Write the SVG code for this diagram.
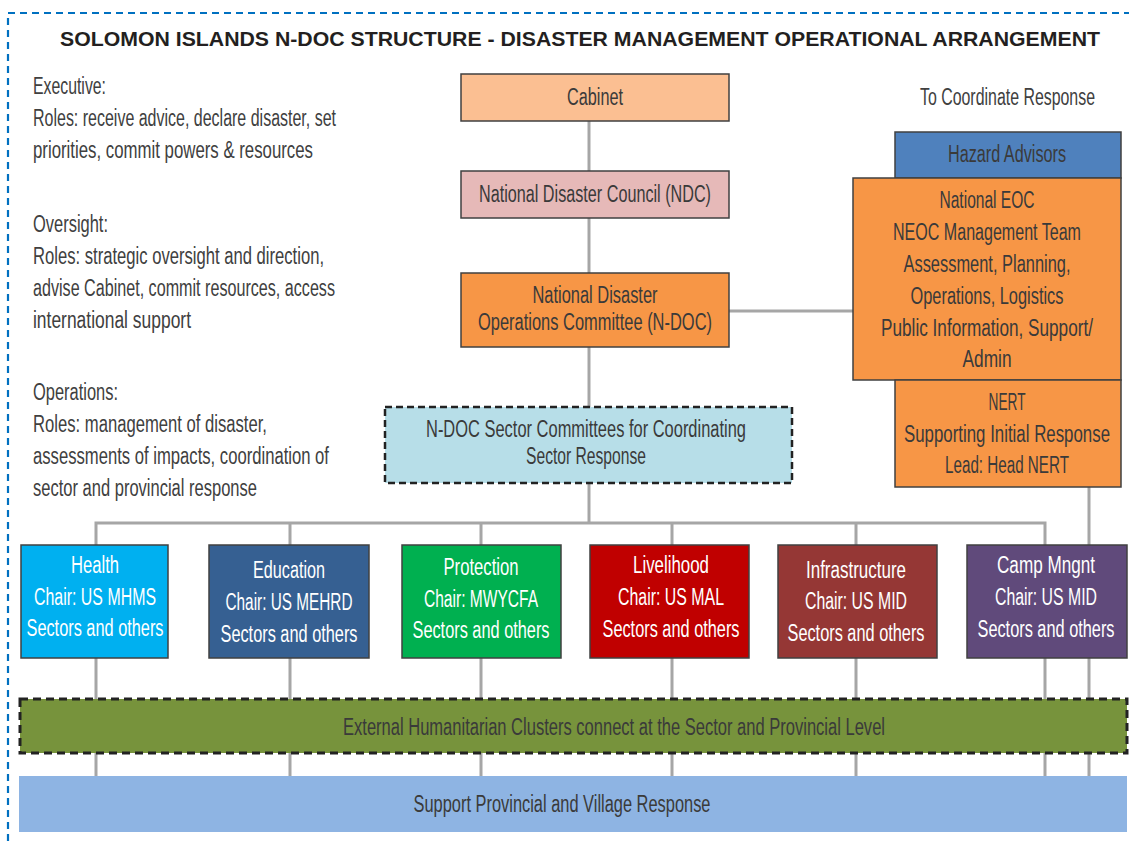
<svg xmlns="http://www.w3.org/2000/svg" width="1129" height="841" viewBox="0 0 1129 841">
<style>
  text { font-family: "Liberation Sans Narrow", "Liberation Sans", Arial, sans-serif; font-size: 23px; }
  .title { font-weight: bold; font-size: 20px; fill: #231F20; }
  .side { fill: #404040; }
  .dk { fill: #3A3A3A; text-anchor: middle; }
  .wt { fill: #FFFFFF; text-anchor: middle; }
  .box { stroke: #404040; stroke-width: 1.5; }
  .dash { stroke: #222222; stroke-width: 2.5; stroke-dasharray: 7 4; }
  .conn { stroke: #A6A6A6; stroke-width: 3; fill: none; }
</style>
<rect width="1129" height="841" fill="#FFFFFF"/>
<path d="M8,841 V13 H1129" fill="none" stroke="#0070C0" stroke-width="2.2" stroke-dasharray="7 5"/>

<text class="title" x="60" y="46" textLength="1040" lengthAdjust="spacingAndGlyphs">SOLOMON ISLANDS N-DOC STRUCTURE - DISASTER MANAGEMENT OPERATIONAL ARRANGEMENT</text>

<g id="side-notes">
  <text class="side" x="33" y="94" textLength="73" lengthAdjust="spacingAndGlyphs">Executive:</text>
  <text class="side" x="33" y="126" textLength="303" lengthAdjust="spacingAndGlyphs">Roles: receive advice, declare disaster, set</text>
  <text class="side" x="33" y="158" textLength="280" lengthAdjust="spacingAndGlyphs">priorities, commit powers &amp; resources</text>
  <text class="side" x="33" y="232" textLength="75" lengthAdjust="spacingAndGlyphs">Oversight:</text>
  <text class="side" x="33" y="264" textLength="291" lengthAdjust="spacingAndGlyphs">Roles: strategic oversight and direction,</text>
  <text class="side" x="33" y="296" textLength="302" lengthAdjust="spacingAndGlyphs">advise Cabinet, commit resources, access</text>
  <text class="side" x="33" y="328" textLength="158" lengthAdjust="spacingAndGlyphs">international support</text>
  <text class="side" x="33" y="400" textLength="85" lengthAdjust="spacingAndGlyphs">Operations:</text>
  <text class="side" x="33" y="432" textLength="234" lengthAdjust="spacingAndGlyphs">Roles: management of disaster,</text>
  <text class="side" x="33" y="464" textLength="296" lengthAdjust="spacingAndGlyphs">assessments of impacts, coordination of</text>
  <text class="side" x="33" y="496" textLength="224" lengthAdjust="spacingAndGlyphs">sector and provincial response</text>
  <text class="side" x="920" y="105" textLength="175" lengthAdjust="spacingAndGlyphs">To Coordinate Response</text>
</g>

<g id="connectors">
  <path class="conn" d="M589,121 V171"/>
  <path class="conn" d="M589,218 V273"/>
  <path class="conn" d="M729,311 H853"/>
  <path class="conn" d="M589,347 V407"/>
  <path class="conn" d="M589,483 V523"/>
  <path class="conn" d="M96,545 V523 H1045 V545"/>
  <path class="conn" d="M290,523 V545 M481,523 V545 M672,523 V545 M856,523 V545"/>
  <path class="conn" d="M1089,487 V776"/>
  <path class="conn" d="M96,658 V776 M290,658 V776 M481,658 V776 M672,658 V776 M856,658 V776 M1045,658 V776"/>
</g>

<g id="cabinet">
  <rect class="box" x="461" y="74" width="268" height="47" fill="#FBBF92"/>
  <text class="dk" x="595" y="105" textLength="56" lengthAdjust="spacingAndGlyphs">Cabinet</text>
</g>
<g id="ndc">
  <rect class="box" x="461" y="171" width="268" height="47" fill="#E6B9B8"/>
  <text class="dk" x="595" y="202" textLength="232" lengthAdjust="spacingAndGlyphs">National Disaster Council (NDC)</text>
</g>
<g id="ndoc">
  <rect class="box" x="461" y="273" width="268" height="74" fill="#F79646"/>
  <text class="dk" x="595" y="303" textLength="125" lengthAdjust="spacingAndGlyphs">National Disaster</text>
  <text class="dk" x="595" y="330" textLength="234" lengthAdjust="spacingAndGlyphs">Operations Committee (N-DOC)</text>
</g>
<g id="sector-committees">
  <rect class="dash" x="385" y="407" width="407" height="76" fill="#B7DEE8"/>
  <text class="dk" x="586" y="437" textLength="320" lengthAdjust="spacingAndGlyphs">N-DOC Sector Committees for Coordinating</text>
  <text class="dk" x="586" y="464" textLength="120" lengthAdjust="spacingAndGlyphs">Sector Response</text>
</g>
<g id="hazard-advisors">
  <rect class="box" x="895" y="132" width="226" height="46" fill="#4F81BD"/>
  <text class="dk" x="1007" y="162" textLength="118" lengthAdjust="spacingAndGlyphs">Hazard Advisors</text>
</g>
<g id="national-eoc">
  <rect class="box" x="853" y="178" width="268" height="202" fill="#F79646"/>
  <text class="dk" x="987" y="208" textLength="95" lengthAdjust="spacingAndGlyphs">National EOC</text>
  <text class="dk" x="987" y="240" textLength="188" lengthAdjust="spacingAndGlyphs">NEOC Management Team</text>
  <text class="dk" x="987" y="272" textLength="167" lengthAdjust="spacingAndGlyphs">Assessment, Planning,</text>
  <text class="dk" x="987" y="304" textLength="153" lengthAdjust="spacingAndGlyphs">Operations, Logistics</text>
  <text class="dk" x="987" y="336" textLength="212" lengthAdjust="spacingAndGlyphs">Public Information, Support/</text>
  <text class="dk" x="987" y="367" textLength="49" lengthAdjust="spacingAndGlyphs">Admin</text>
</g>
<g id="nert">
  <rect class="box" x="895" y="380" width="226" height="107" fill="#F79646"/>
  <text class="dk" x="1007" y="410" textLength="37" lengthAdjust="spacingAndGlyphs">NERT</text>
  <text class="dk" x="1007" y="442" textLength="206" lengthAdjust="spacingAndGlyphs">Supporting Initial Response</text>
  <text class="dk" x="1007" y="473" textLength="124" lengthAdjust="spacingAndGlyphs">Lead: Head NERT</text>
</g>

<g id="health">
  <rect class="box" x="21" y="545" width="147" height="113" fill="#00B0F0"/>
  <text class="wt" x="95" y="573" textLength="48" lengthAdjust="spacingAndGlyphs">Health</text>
  <text class="wt" x="95" y="605" textLength="122" lengthAdjust="spacingAndGlyphs">Chair: US MHMS</text>
  <text class="wt" x="95" y="636" textLength="137" lengthAdjust="spacingAndGlyphs">Sectors and others</text>
</g>
<g id="education">
  <rect class="box" x="209" y="545" width="160" height="113" fill="#366092"/>
  <text class="wt" x="289" y="578" textLength="72" lengthAdjust="spacingAndGlyphs">Education</text>
  <text class="wt" x="289" y="610" textLength="127" lengthAdjust="spacingAndGlyphs">Chair: US MEHRD</text>
  <text class="wt" x="289" y="642" textLength="137" lengthAdjust="spacingAndGlyphs">Sectors and others</text>
</g>
<g id="protection">
  <rect class="box" x="402" y="545" width="159" height="113" fill="#00B050"/>
  <text class="wt" x="481" y="575" textLength="75" lengthAdjust="spacingAndGlyphs">Protection</text>
  <text class="wt" x="481" y="607" textLength="114" lengthAdjust="spacingAndGlyphs">Chair: MWYCFA</text>
  <text class="wt" x="481" y="638" textLength="137" lengthAdjust="spacingAndGlyphs">Sectors and others</text>
</g>
<g id="livelihood">
  <rect class="box" x="590" y="545" width="159" height="113" fill="#C00000"/>
  <text class="wt" x="671" y="573" textLength="76" lengthAdjust="spacingAndGlyphs">Livelihood</text>
  <text class="wt" x="671" y="605" textLength="106" lengthAdjust="spacingAndGlyphs">Chair: US MAL</text>
  <text class="wt" x="671" y="637" textLength="137" lengthAdjust="spacingAndGlyphs">Sectors and others</text>
</g>
<g id="infrastructure">
  <rect class="box" x="778" y="545" width="159" height="113" fill="#953735"/>
  <text class="wt" x="856" y="578" textLength="100" lengthAdjust="spacingAndGlyphs">Infrastructure</text>
  <text class="wt" x="856" y="609" textLength="102" lengthAdjust="spacingAndGlyphs">Chair: US MID</text>
  <text class="wt" x="856" y="641" textLength="137" lengthAdjust="spacingAndGlyphs">Sectors and others</text>
</g>
<g id="camp-mngnt">
  <rect class="box" x="967" y="545" width="160" height="113" fill="#604A7B"/>
  <text class="wt" x="1046" y="573" textLength="98" lengthAdjust="spacingAndGlyphs">Camp Mngnt</text>
  <text class="wt" x="1046" y="605" textLength="102" lengthAdjust="spacingAndGlyphs">Chair: US MID</text>
  <text class="wt" x="1046" y="637" textLength="137" lengthAdjust="spacingAndGlyphs">Sectors and others</text>
</g>

<g id="external-clusters">
  <rect x="20" y="699" width="1107" height="54" fill="#77933C" stroke="#222222" stroke-width="3" stroke-dasharray="8 5"/>
  <text class="dk" x="614" y="735" textLength="542" lengthAdjust="spacingAndGlyphs">External Humanitarian Clusters connect at the Sector and Provincial Level</text>
</g>
<g id="provincial-support">
  <rect x="19" y="776" width="1108" height="56" fill="#8EB4E3"/>
  <text class="dk" x="562" y="812" textLength="297" lengthAdjust="spacingAndGlyphs">Support Provincial and Village Response</text>
</g>
</svg>
